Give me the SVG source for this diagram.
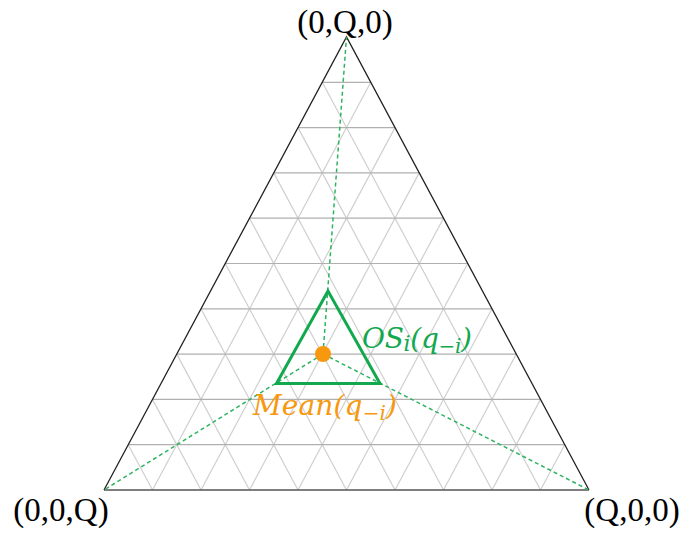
<svg xmlns="http://www.w3.org/2000/svg" width="681" height="536" viewBox="0 0 681 536">
<style>
.h{stroke:#b0b0b0;stroke-width:1.2;fill:none}
.d{stroke:#cfcfcf;stroke-width:1.2;fill:none}
.dash{stroke:#2eb35f;stroke-width:1.5;stroke-dasharray:4 3;fill:none}
.lbl{font-family:"Liberation Serif","Times New Roman",serif;font-size:33px;fill:#000}
.math{font-family:"DejaVu Serif","Liberation Serif",serif;font-style:italic;font-size:28px}
</style>
<rect width="681" height="536" fill="#fff"/>
<g id="grid">
<path class="d" d="M152.5,490L370.75,82.3 M201,490L395,127.6 M249.5,490L419.25,172.9 M298,490L443.5,218.2 M346.5,490L467.75,263.5 M395,490L492,308.8 M443.5,490L516.25,354.1 M492,490L540.5,399.4 M540.5,490L564.75,444.7"/>
<path class="d" d="M152.5,490L128.25,444.7 M201,490L152.5,399.4 M249.5,490L176.75,354.1 M298,490L201,308.8 M346.5,490L225.25,263.5 M395,490L249.5,218.2 M443.5,490L273.75,172.9 M492,490L298,127.6 M540.5,490L322.25,82.3"/>
<path class="h" d="M128.25,444.7H564.75 M152.5,399.4H540.5 M176.75,354.1H516.25 M201,308.8H492 M225.25,263.5H467.75 M249.5,218.2H443.5 M273.75,172.9H419.25 M298,127.6H395 M322.25,82.3H370.75"/>
</g>
<g id="outer-triangle">
<path d="M104,490L346.5,37L589,490" stroke="#222" stroke-width="1.3" fill="none"/>
<path d="M104,490H589" stroke="#555" stroke-width="1.5" fill="none"/>
</g>
<g id="connectors">
<line class="dash" x1="323" y1="354" x2="346.5" y2="37"/>
<line class="dash" x1="323" y1="354" x2="104" y2="490"/>
<line class="dash" x1="323" y1="354" x2="589" y2="490"/>
</g>
<g id="os-triangle">
<path d="M328,291L276.5,383.5H380Z" fill="none" stroke="#12a84e" stroke-width="3"/>
</g>
<g id="mean-point">
<circle cx="323" cy="354" r="8" fill="#F7980F"/>
</g>
<g id="vertex-top"><text class="lbl" x="345" y="33" text-anchor="middle">(0,Q,0)</text></g>
<g id="vertex-left"><text class="lbl" x="61" y="521" text-anchor="middle">(0,0,Q)</text></g>
<g id="vertex-right"><text class="lbl" x="632" y="521" text-anchor="middle">(Q,0,0)</text></g>
<g id="os-label"><text class="math" x="362" y="348" fill="#12a84e" textLength="110" lengthAdjust="spacing">OS<tspan font-size="22" dy="3">i</tspan><tspan dy="-3">(q</tspan><tspan font-size="20" dy="5">−i</tspan><tspan dy="-5">)</tspan></text></g>
<g id="mean-label"><text class="math" x="253" y="415" fill="#F7980F" textLength="144" lengthAdjust="spacing">Mean(q<tspan font-size="20" dy="5">−i</tspan><tspan dy="-5">)</tspan></text></g>
</svg>
